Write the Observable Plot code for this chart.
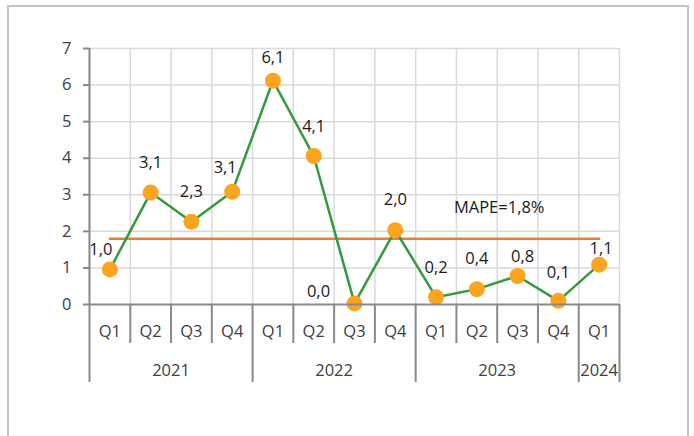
<!DOCTYPE html>
<html>
<head>
<meta charset="utf-8">
<script src="https://cdn.jsdelivr.net/npm/d3@7"></script>
<script src="https://cdn.jsdelivr.net/npm/@observablehq/plot@0.6"></script>
<style>
  html, body { margin: 0; padding: 0; background: #fff; }
  #wrap { position: relative; width: 694px; height: 436px; overflow: hidden; }
  #border { position: absolute; left: 7px; top: 5px; width: 678px; height: 500px; border: 2px solid #c4c4c4; }
  #chart { position: absolute; left: 0; top: 0; }
</style>
</head>
<body>
<div id="wrap"><div id="border"></div><div id="chart"></div></div>
<script>
// ---- data ----
const quarters = ["Q1","Q2","Q3","Q4","Q1","Q2","Q3","Q4","Q1","Q2","Q3","Q4","Q1"];
const years    = ["2021","2021","2021","2021","2022","2022","2022","2022","2023","2023","2023","2023","2024"];
const values   = [0.96, 3.06, 2.26, 3.08, 6.12, 4.06, 0.03, 2.03, 0.2, 0.42, 0.78, 0.1, 1.09];
const mapeValue = 1.8;
const mapeText = "MAPE=1,8%";
const yTicks = [0, 1, 2, 3, 4, 5, 6, 7];
// label offsets (style)
const labelDx = [-9, 0, 0, -7, 0, 0, -36, 0, 0, 0, 5, 0, 2];
const labelDy = [-20, -30, -30, -24, -23, -29, -12, -31, -29, -30, -19, -28, -16];

// ---- build ----
const keys = quarters.map((q, i) => years[i] + " " + q);
const rows = keys.map((k, i) => ({key: k, q: quarters[i], year: years[i], v: values[i],
  label: values[i].toFixed(1).replace(".", ",")}));
const yearGroups = [];
rows.forEach((r, i) => {
  const g = yearGroups[yearGroups.length - 1];
  if (g && g.year === r.year) g.n++;
  else yearGroups.push({year: r.year, first: r.key, firstIndex: i, n: 1});
});

const W = 694, H = 436, ML = 89, MR = 75, MT = 48, MB = 132;
const bw = (W - ML - MR) / keys.length;
const axisColor = "#898989", gridColor = "#d9d9d9", textColor = "#404040";
const fs = 16.5;
const plotH = H - MT - MB;

const isYearStart = new Set(yearGroups.map(g => g.first));

const marks = [
  // horizontal grid
  Plot.gridY(yTicks.filter(t => t > 0), {stroke: gridColor, strokeOpacity: 1, strokeWidth: 1.5}),
  // vertical grid at band edges
  Plot.ruleX(rows, {x: "key", dx: -bw / 2, stroke: gridColor, strokeWidth: 1.5}),
  Plot.ruleX([rows[rows.length - 1]], {x: "key", dx: bw / 2, stroke: gridColor, strokeWidth: 1.5}),
  // MAPE line
  Plot.lineY(rows, {x: "key", y: () => mapeValue, stroke: "#ED7D31", strokeWidth: 2.5}),
  // series
  Plot.lineY(rows, {x: "key", y: "v", stroke: "#339a3d", strokeWidth: 2.5}),
  Plot.dot(rows, {x: "key", y: "v", r: 8, fill: "#FBA41F", stroke: "none"}),
  // data labels
  ...rows.map((r, i) => Plot.text([r], {x: "key", y: "v", text: "label", dx: labelDx[i], dy: labelDy[i],
    fontSize: fs, fill: "#1a1a1a"})),
  // MAPE text
  Plot.text([mapeText], {x: () => keys[9], y: () => 2.65, text: d => d, dx: bw / 2 + 2, fontSize: fs, fill: "#1a1a1a"}),
  // y axis ticks and labels
  Plot.axisY({ticks: yTicks, tickSize: 6, tickFormat: () => "", stroke: axisColor, color: axisColor, strokeWidth: 2, label: null}),
  Plot.axisY({ticks: yTicks, tickSize: 0, tickPadding: 18, tickFormat: d => String(d), color: textColor, fontSize: fs, label: null}),
  // y axis line (extends below to year row)
  Plot.ruleX([rows[0]], {x: "key", dx: -bw / 2, stroke: axisColor, strokeWidth: 2, insetBottom: -78}),
  // x axis line
  Plot.ruleY([0], {stroke: axisColor, strokeWidth: 2}),
  // quarter separators (short) and year separators (long)
  Plot.ruleX(rows.filter(r => !isYearStart.has(r.key)), {x: "key", dx: -bw / 2, stroke: axisColor, strokeWidth: 2,
    insetTop: plotH, insetBottom: -39}),
  Plot.ruleX(rows.filter((r, i) => i > 0 && isYearStart.has(r.key)), {x: "key", dx: -bw / 2, stroke: axisColor, strokeWidth: 2,
    insetTop: plotH, insetBottom: -78}),
  Plot.ruleX([rows[rows.length - 1]], {x: "key", dx: bw / 2, stroke: axisColor, strokeWidth: 2,
    insetTop: plotH, insetBottom: -78}),
  // quarter labels
  Plot.text(rows, {x: "key", y: () => 0, text: "q", dy: 27, fontSize: fs, fill: textColor}),
  // year labels
  ...yearGroups.map(g => Plot.text([g], {x: "first", y: () => 0, text: "year", dx: (g.n - 1) * bw / 2, dy: 66,
    fontSize: fs, fill: textColor}))
];

const chart = Plot.plot({
  width: W, height: H,
  marginLeft: ML, marginRight: MR, marginTop: MT, marginBottom: MB,
  style: {fontFamily: "'Open Sans', 'Noto Sans', sans-serif", fontSize: fs + "px", background: "transparent", overflow: "visible"},
  x: {type: "band", domain: keys, padding: 0, round: false, axis: null},
  y: {domain: [0, 7], axis: null},
  marks
});
document.getElementById("chart").appendChild(chart);
</script>
</body>
</html>
